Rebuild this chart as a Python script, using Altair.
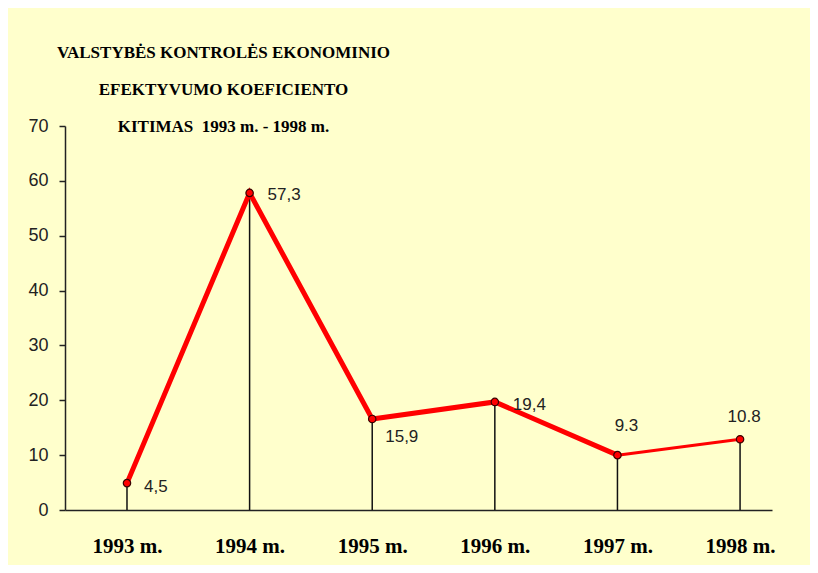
import altair as alt
import pandas as pd

years = ["1993 m.", "1994 m.", "1995 m.", "1996 m.", "1997 m.", "1998 m."]
values = [4.9, 57.8, 16.6, 19.7, 10.0, 12.9]
labels = ["4,5", "57,3", "15,9", "19,4", "9.3", "10.8"]
y_ticks = [0, 10, 20, 30, 40, 50, 60, 70]
title_lines = ["VALSTYBĖS KONTROLĖS EKONOMINIO", "EFEKTYVUMO KOEFICIENTO",
               "KITIMAS\u00a0 1993 m. - 1998 m."]

df = pd.DataFrame({"year": years, "value": values, "label": labels})
df_thick = df.iloc[:5]
df_thin = df.iloc[4:]

x_enc = alt.X("year:N", sort=years,
              scale=alt.Scale(type="point", padding=0.383, align=0.66),
              axis=alt.Axis(title=None, labelAngle=0, ticks=False, domainColor="#222",
                            domainWidth=1.5, labelFont="Liberation Serif", labelFontWeight="bold",
                            labelFontSize=21, labelColor="#000", labelPadding=25))
y_enc = alt.Y("value:Q", scale=alt.Scale(domain=[0, 70], nice=False),
              axis=alt.Axis(title=None, values=y_ticks, grid=False, domainColor="#222",
                            domainWidth=1.5, tickColor="#222", tickWidth=1.5, tickSize=6,
                            labelFont="Liberation Sans", labelFontSize=18, labelColor="#222",
                            labelPadding=11))

base = alt.Chart(df)

rules = base.mark_rule(color="#111", strokeWidth=1.5).encode(x=x_enc, y=y_enc, y2=alt.datum(0))
thick = alt.Chart(df_thick).mark_line(color="#ff0000", strokeWidth=5).encode(x=x_enc, y=y_enc)
thin = alt.Chart(df_thin).mark_line(color="#ff0000", strokeWidth=3).encode(x=x_enc, y=y_enc)
points = base.mark_point(shape="circle", filled=True, fill="#ff0000", stroke="#3a0000",
                         strokeWidth=1.2, size=55, opacity=1).encode(x=x_enc, y=y_enc)

offsets = {
    "4,5": (17, 4, "left"),
    "57,3": (18, 2, "left"),
    "15,9": (13, 18, "left"),
    "19,4": (18, 3, "left"),
    "9.3": (9, -29, "center"),
    "10.8": (4, -22, "center"),
}
texts = []
for lab, (dx, dy, al) in offsets.items():
    texts.append(
        base.transform_filter(alt.datum.label == lab)
        .mark_text(dx=dx, dy=dy, align=al, baseline="middle", font="Liberation Sans",
                   fontSize=17, color="#222")
        .encode(x=x_enc, y=y_enc, text="label:N")
    )

chart = alt.layer(rules, thick, thin, points, *texts).properties(
    width=707, height=384,
    background="#ffffcc",
    autosize=alt.AutoSizeParams(type="none"),
    padding={"left": 57, "top": 118, "right": 38, "bottom": 55},
    title=alt.TitleParams(text=title_lines, font="Liberation Serif", fontWeight="bold",
                          fontSize=17, color="#000", anchor="middle", dx=-195,
                          lineHeight=37, offset=-19),
).configure_view(stroke=None)

chart.save("out.html", embed_options={"renderer": "svg", "actions": False})
